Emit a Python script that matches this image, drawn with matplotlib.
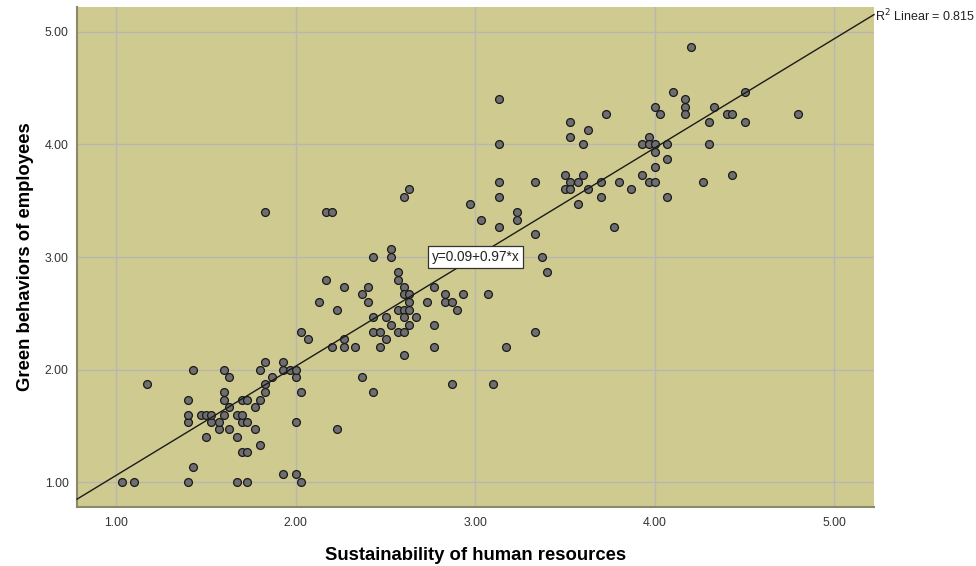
import numpy as np
import matplotlib
matplotlib.use("Agg")
import matplotlib.pyplot as plt

plt.rcParams['font.family'] = ['Liberation Sans', 'DejaVu Sans']

# Sustainability of human resources (x) vs Green behaviors of employees (y)
hr_sustain = [
    1.03, 1.10, 1.40, 1.67, 1.73, 1.93, 2.00, 2.03, 1.43, 1.70,
    1.73, 1.80, 1.50, 1.67, 1.57, 1.63, 1.77, 1.40, 1.53, 1.57,
    1.70, 1.73, 2.00, 1.40, 1.47, 1.50, 1.53, 1.60, 1.67, 1.70,
    1.63, 1.77, 1.40, 1.60, 1.70, 1.73, 1.80, 1.60, 1.83, 2.03,
    1.17, 1.83, 1.87, 2.00, 1.63, 1.43, 1.60, 1.80, 1.93, 1.97,
    2.00, 1.93, 1.83,
    2.07, 2.03, 2.20, 2.27, 2.33, 2.27, 2.13, 2.17, 2.17, 2.20,
    1.83, 2.23, 2.27, 2.37, 2.40, 2.40, 2.43, 2.53, 2.53, 2.57,
    2.57, 2.60, 2.60, 2.63, 2.63, 2.57, 2.60, 2.63, 2.43, 2.50,
    2.60, 2.67, 2.53, 2.63, 2.43, 2.47, 2.57, 2.60, 2.50, 2.47,
    2.60, 2.77, 2.73, 2.83, 2.83, 2.87, 2.90, 2.93, 3.07, 2.77,
    2.77, 3.17, 3.33, 2.37, 2.43, 2.87, 3.10, 2.23, 2.60, 2.63,
    2.97, 3.03, 3.13, 3.23, 3.23, 3.33, 3.37, 3.40, 3.13, 3.13,
    3.33, 3.13, 3.13,
    4.20, 4.10, 4.17, 4.17, 4.17, 4.00, 4.03, 3.73, 4.50, 4.33,
    4.40, 4.43, 4.30, 4.50, 3.53, 3.63, 3.53, 3.60, 3.97, 3.93,
    3.97, 4.00, 4.07, 4.30, 4.00, 4.07, 4.00, 3.93, 3.97, 4.00,
    4.27, 4.43, 4.07, 3.50, 3.60, 3.53, 3.57, 3.50, 3.53, 3.63,
    3.70, 3.80, 3.87, 3.70, 3.57, 3.77, 4.80,
]
green_behav = [
    1.00, 1.00, 1.00, 1.00, 1.00, 1.07, 1.07, 1.00, 1.13, 1.27,
    1.27, 1.33, 1.40, 1.40, 1.47, 1.47, 1.47, 1.53, 1.53, 1.53,
    1.53, 1.53, 1.53, 1.60, 1.60, 1.60, 1.60, 1.60, 1.60, 1.60,
    1.67, 1.67, 1.73, 1.73, 1.73, 1.73, 1.73, 1.80, 1.80, 1.80,
    1.87, 1.87, 1.93, 1.93, 1.93, 2.00, 2.00, 2.00, 2.00, 2.00,
    2.00, 2.07, 2.07,
    2.27, 2.33, 2.20, 2.20, 2.20, 2.27, 2.60, 2.80, 3.40, 3.40,
    3.40, 2.53, 2.73, 2.67, 2.73, 2.60, 3.00, 3.07, 3.00, 2.87,
    2.80, 2.73, 2.67, 2.67, 2.60, 2.53, 2.53, 2.53, 2.47, 2.47,
    2.47, 2.47, 2.40, 2.40, 2.33, 2.33, 2.33, 2.33, 2.27, 2.20,
    2.13, 2.73, 2.60, 2.67, 2.60, 2.60, 2.53, 2.67, 2.67, 2.40,
    2.20, 2.20, 2.33, 1.93, 1.80, 1.87, 1.87, 1.47, 3.53, 3.60,
    3.47, 3.33, 3.27, 3.40, 3.33, 3.20, 3.00, 2.87, 3.53, 3.67,
    3.67, 4.00, 4.40,
    4.87, 4.47, 4.40, 4.33, 4.27, 4.33, 4.27, 4.27, 4.47, 4.33,
    4.27, 4.27, 4.20, 4.20, 4.20, 4.13, 4.07, 4.00, 4.07, 4.00,
    4.00, 4.00, 4.00, 4.00, 3.93, 3.87, 3.80, 3.73, 3.67, 3.67,
    3.67, 3.73, 3.53, 3.73, 3.73, 3.67, 3.67, 3.60, 3.60, 3.60,
    3.67, 3.67, 3.60, 3.53, 3.47, 3.27, 4.27,
]

# fit line as reported
intercept = 0.09
slope = 0.97
r_squared = 0.815

x_ticks = [1.0, 2.0, 3.0, 4.0, 5.0]
y_ticks = [1.0, 2.0, 3.0, 4.0, 5.0]
x_range = (0.781, 5.221)
y_range = (0.778, 5.222)

fig = plt.figure(figsize=(9.76, 5.66), dpi=100)
ax = fig.add_axes([77 / 976, 59 / 566, 797 / 976, 500 / 566])
ax.set_facecolor('#CFCA8F')

ax.set_xlim(*x_range)
ax.set_ylim(*y_range)
ax.set_xticks(x_ticks)
ax.set_yticks(y_ticks)
ax.set_xticklabels(['{:.2f}'.format(t) for t in x_ticks])
ax.set_yticklabels(['{:.2f}'.format(t) for t in y_ticks])
ax.tick_params(length=0, labelsize=8.8, labelcolor='#333333')
ax.tick_params(axis='x', pad=7)
ax.tick_params(axis='y', pad=6)

ax.grid(True, color='#B6B6B2', linewidth=1.0)
ax.set_axisbelow(True)

for side in ['top', 'right']:
    ax.spines[side].set_visible(False)
for side in ['left', 'bottom']:
    ax.spines[side].set_color('#8A8A6A')
    ax.spines[side].set_linewidth(1.5)

ax.scatter(hr_sustain, green_behav, s=32, facecolor='#6E6E6E',
           edgecolor='#1A1A1A', linewidth=0.9, zorder=3)

xs = np.array(x_range)
ax.plot(xs, intercept + slope * xs, color='#1A1A1A', linewidth=1.0,
        zorder=4, clip_on=False)

ax.text(0.5, 0.5, 'y={:.2f}+{:.2f}*x'.format(intercept, slope),
        transform=ax.transAxes, ha='center', va='center', fontsize=9.8,
        color='#222222', zorder=5,
        bbox=dict(boxstyle='square,pad=0.3', facecolor='white',
                  edgecolor='#333333', linewidth=0.9))

ax.annotate('R$^2$ Linear = {:.3f}'.format(r_squared),
            xy=(x_range[1], intercept + slope * x_range[1]),
            xytext=(1, -1), textcoords='offset points',
            ha='left', va='center', fontsize=9, color='#222222',
            annotation_clip=False)

ax.set_xlabel('Sustainability of human resources', fontsize=13.3,
              fontweight='bold', labelpad=13)
ax.set_ylabel('Green behaviors of employees', fontsize=13.3,
              fontweight='bold', labelpad=8)

fig.savefig('out.png', dpi=100)
